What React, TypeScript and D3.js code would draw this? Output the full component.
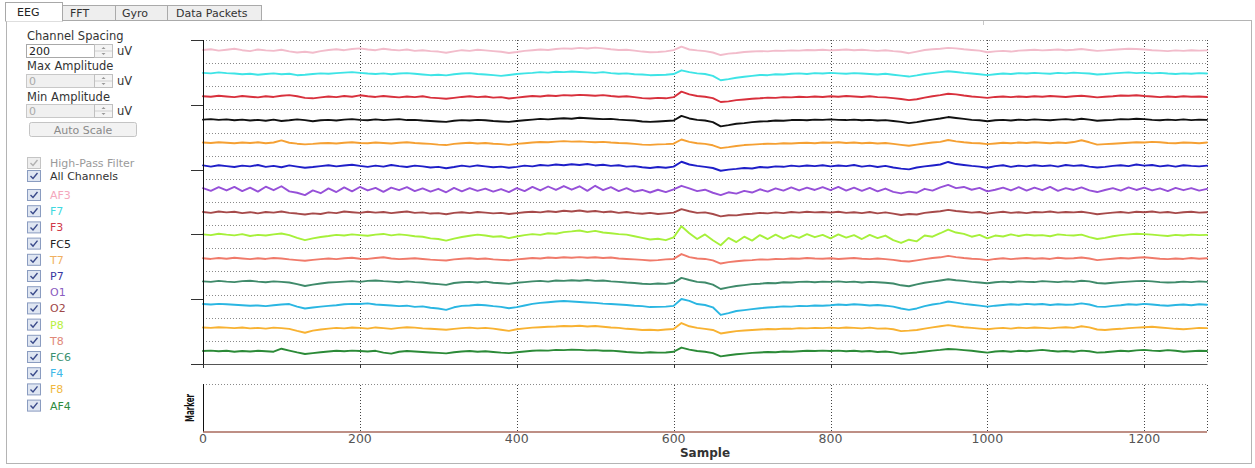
import React from 'react';
import * as d3 from 'd3';

// channel names, top to bottom
const channelNames = ['AF3', 'F7', 'F3', 'FC5', 'T7', 'P7', 'O1', 'O2', 'P8', 'T8', 'FC6', 'F4', 'F8', 'AF4'];
const traceColors = ['#f2bccb', '#3ee4e6', '#d8303c', '#111111', '#f5a033', '#1e1ec8', '#9650d8', '#a64a4a', '#a6f03a', '#f07a6a', '#3f8a6a', '#2ab6e2', '#f8b232', '#2b8a37'];
const labelColors = ['#f4a8bc', '#40d8e0', '#d03848', '#222222', '#f0b060', '#3838a0', '#8a5cc0', '#a04848', '#b8f040', '#e08878', '#3a9070', '#40b8e8', '#f0b840', '#2e8b3e'];

const sampleStep = 10; // one value every 10 samples
const channelSpacing = 200; // uV

// offsets from each channel's baseline, uV
const af3 = [
  4, 10, -2, 6, 14, 2, -6, 8, 0, -4, 6, -8, -18, -12, -20, -6,
  4, 10, 2, 12, 18, 8, 2, 14, 6, 0, 8, -4, 2, -6, -10, -20,
  -8, 2, -4, 6, 0, -6, -12, -22, -14, -4, 2, 8, 4, 12, 18, 14,
  22, 16, 24, 18, 10, 4, 6, -2, -10, -16, -14, -8, 2, 32, 8, 0,
  -6, -18, -40, -28, -22, -14, -10, -6, -8, -2, -4, 0, -2, 4, 2, 6,
  0, 4, 8, 2, 6, 0, -4, 2, -6, -12, -24, -10, 4, 10, 14, 22,
  18, 10, 4, -2, -16, -8, -4, -10, -2, 2, 6, 0, 4, 8, 2, 6,
  12, 4, -4, 0, 6, 10, 14, 12, 8, 2, -2, -6, 0, -4, 2, -2, 0,
];
const f7 = [
  6, 2, 10, 4, 0, -6, -2, -10, -4, 2, -6, -2, -14, -10, -4, 2,
  -2, 4, 8, 12, 6, 0, -4, 2, -6, 0, 4, -2, -8, -14, -10, -16,
  -6, 0, 4, -4, -8, -14, -20, -12, -4, 2, 6, 12, 8, 16, 12, 18,
  14, 10, 6, 12, 4, -2, 2, -6, -8, -14, -12, -10, -4, 28, 12, 2,
  -4, -20, -58, -48, -36, -28, -20, -12, -14, -6, -8, -2, 2, -4, 4, 0,
  6, 2, -2, 4, 0, -4, -8, -2, -10, -18, -26, -16, -4, 4, 12, 20,
  14, 6, 0, -6, -14, -6, 0, -4, 4, 0, 6, 2, -2, 6, 2, 8,
  4, 0, -8, -4, 2, 6, 10, 4, 8, 2, 6, 0, -4, 2, -2, 4, 0,
];
const f3 = [
  4, 0, 8, 2, -4, 6, 0, -6, 4, -2, 8, 14, 4, -10, -14, -6,
  2, -4, 6, 0, 12, 4, -2, 6, 0, -6, 2, -4, 4, -8, -12, -18,
  -10, -2, 4, -4, 2, -8, -4, -16, -8, 0, 6, 2, 10, 6, 14, 10,
  16, 12, 8, 14, 6, 0, 4, -4, -12, -16, -10, -14, -4, 44, 20, 6,
  0, -12, -46, -40, -30, -24, -18, -14, -8, -10, -4, -6, 0, -4, 2, -2,
  4, 0, 6, 2, -2, 4, -4, -6, -12, -20, -30, -22, -8, 4, 14, 26,
  20, 10, 2, -4, -10, -2, 2, -4, 2, -2, 4, 0, 6, 2, -2, 4,
  8, 2, -6, 0, 4, 10, 8, 12, 6, 2, -4, 2, -2, 4, 0, 2, -2,
];
const fc5 = [
  2, 6, 0, 4, -4, 2, -6, 0, -8, 2, -10, -4, 4, -2, -12, -4,
  0, -6, 2, 6, 0, -4, 4, -2, 2, 6, -2, 0, -6, -10, -14, -18,
  -8, -2, -6, 0, -4, -10, -14, -18, -10, -4, 2, 8, 4, 10, 14, 10,
  18, 14, 10, 6, 8, 2, -2, -6, -14, -18, -14, -10, -6, 34, 12, 0,
  -6, -20, -56, -46, -34, -28, -20, -14, -12, -6, -8, -2, 0, -4, 2, 0,
  4, 0, -2, 2, -4, 0, -6, -2, -10, -18, -28, -20, -8, 2, 12, 24,
  16, 8, 0, -4, -12, -4, 0, -6, 2, -2, 4, 0, -4, 2, 6, 0,
  10, 2, -8, -4, 0, 6, 4, 10, 6, 0, -4, 2, -2, 4, -2, 2, 0,
];
const t7 = [
  4, 0, 6, 2, -2, 4, 0, 6, -2, 4, 22, 2, -6, -12, -8, -2,
  0, -4, 2, 6, 0, -2, 4, 0, -4, 2, 6, 0, -4, -8, -14, -18,
  -8, -2, 2, -4, 0, -6, -10, -16, -8, -2, 4, 8, 6, 12, 16, 12,
  14, 10, 6, 10, 4, 0, -2, -8, -14, -16, -12, -10, -6, 30, 10, -2,
  -8, -20, -44, -36, -26, -18, -14, -10, -6, -8, -2, -4, 0, 2, -2, 4,
  2, 6, 0, 4, -2, 2, -4, 0, -8, -16, -24, -14, -4, 4, 10, 26,
  14, 6, 0, -2, -10, -4, 2, -2, 4, 0, 6, 2, -2, 4, 0, 8,
  24, 6, -14, -10, -6, -2, 2, 6, 4, 10, 6, 0, -2, 4, 2, -2, 4,
];
const p7 = [
  6, -4, 8, 0, -8, 4, -2, 10, -6, 2, -10, 6, -4, -14, -8, 0,
  8, -2, 6, 12, 2, -6, 4, -4, 10, 0, -8, 4, -2, -12, -6, -18,
  -8, 4, -4, 6, -2, -10, -4, -14, -6, 4, -2, 10, 4, 14, 8, 16,
  10, 18, 6, 12, 2, 8, -4, 0, -10, -16, -8, -14, -4, 38, 14, 2,
  -6, -16, -40, -30, -24, -16, -20, -8, -12, -2, -6, 4, -2, 6, 0, 8,
  -2, 6, 0, 10, -4, 4, -8, 2, -12, -22, -28, -12, -2, 6, 14, 36,
  18, 10, 2, -4, -14, 0, 8, -6, 4, -2, 8, 0, 6, -4, 10, 2,
  8, -4, -12, -6, 2, 8, 0, 14, 4, 10, -2, 6, -4, 8, 2, -2, 4,
];
const o1 = [
  10, -14, 18, -10, 20, -16, 14, -20, 22, -8, 26, -18, -30, -50, -10, -34,
  8, -24, 16, -18, 20, -10, 12, -22, 14, -8, 18, -16, 8, -20, 4, -26,
  12, -18, 10, -14, 6, -20, 2, -24, 10, -16, 20, -10, 24, -6, 28, -4,
  26, -14, 30, -8, 18, -16, 10, -20, -6, -28, -4, -24, 0, 30, 8, -16,
  -4, -30, -50, -26, -38, -14, -28, 0, -20, 8, -12, 16, -10, 14, -6, 18,
  -8, 20, -12, 14, -14, 12, -18, 6, -22, -36, -20, -30, 4, -12, 16, 38,
  10, 20, -4, 12, -18, -4, 14, -10, 18, -12, 14, -8, 20, -14, 10, -6,
  16, -10, -24, -6, 10, -12, 16, -6, 14, -10, 8, -16, 12, -8, 10, -12, 4,
];
const o2 = [
  4, -4, 8, 0, 6, -6, 2, -8, 4, -2, 8, -4, -10, -18, -8, -14,
  0, -6, 8, 2, -4, 6, -2, 4, -6, 2, 8, -4, 0, -10, -6, -16,
  -4, 2, -6, 4, -2, -8, -4, -14, -6, 2, 6, 0, 10, 4, 14, 8,
  16, 6, 12, 2, 8, -4, 4, -6, -12, -4, -14, -8, -2, 28, 10, -4,
  0, -14, -34, -24, -26, -16, -12, -4, -8, 0, -6, 4, -2, 6, 0, 4,
  -2, 6, -4, 2, -6, 4, -8, 0, -10, -22, -14, -18, -4, 4, 10, 22,
  12, 6, -2, 4, -10, -2, 6, -4, 2, -6, 4, 0, 8, -2, 4, 0,
  6, -4, -16, -8, -2, 4, -4, 6, 2, 8, -2, 4, -6, 2, 6, -2, 2,
];
const p8 = [
  10, 4, 16, 8, 2, 12, -4, 6, 0, 10, 18, 4, -20, -40, -24, -12,
  -4, 6, 0, 10, 4, -2, 8, 14, 2, 10, 4, -6, -10, -24, -30, -44,
  -26, -12, -2, 8, 0, -10, -6, -22, -8, 4, 12, 6, 20, 16, 30, 36,
  44, 30, 40, 26, 20, 12, 8, -6, -20, -34, -28, -40, -16, 80, 20, -30,
  10, -40, -84, -20, -56, -10, -44, 4, -30, 8, -26, 2, -20, 12, -14, 6,
  -24, 10, -18, 4, -30, 6, -22, 0, -40, -64, -36, -50, 0, -10, 20, 52,
  26, 14, -10, 6, -24, 0, -8, 10, -4, 8, 0, 4, -6, 10, 4, 0,
  8, -14, -30, -20, -6, 4, 10, 16, 12, 8, 2, -4, 6, 0, 8, 4, 6,
];
const t8 = [
  4, -2, 6, 0, 8, 2, -4, 4, -2, 6, 2, -6, -12, -18, -10, -4,
  2, -4, 4, 8, 0, -2, 6, 12, 2, -4, 0, 4, -2, -8, -12, -16,
  -6, 0, 4, -2, 2, -6, -10, -14, -6, 0, 6, 2, 10, 6, 12, 8,
  14, 8, 12, 6, 10, 2, -2, -6, -10, -16, -12, -6, -2, 40, 14, 2,
  -2, -14, -42, -30, -22, -16, -12, -6, -8, -2, -4, 2, 0, 6, 2, 0,
  4, -2, 2, 6, 0, -4, 2, -4, -10, -20, -24, -14, -4, 6, 12, 24,
  14, 6, 0, -4, -12, -2, 4, -4, 2, 6, 0, 4, -2, 8, 2, 4,
  10, 2, -12, -6, 0, 6, 2, 8, 12, 6, 0, -4, 2, -2, 6, 0, 4,
];
const fc6 = [
  4, 0, 8, 2, -2, 6, 10, 2, -4, 4, 0, -6, -20, -36, -24, -14,
  -6, -2, 2, 6, 0, 8, 12, 6, 2, -4, 4, -2, -6, -14, -20, -26,
  -10, -4, 0, -6, 2, -8, -12, -18, -8, -2, 4, 8, 2, 12, 8, 14,
  10, 16, 8, 12, 4, 0, -6, -10, -16, -20, -14, -18, -8, 34, 16, 0,
  -6, -24, -62, -48, -36, -28, -20, -16, -10, -12, -4, -6, 0, 2, -4, 2,
  0, 4, -2, 2, -6, 0, -4, -8, -14, -30, -38, -22, -8, 2, 12, 22,
  14, 8, 0, -6, -12, -4, 2, -4, 4, 0, -2, 6, 2, -2, 4, 0,
  10, 4, -10, -14, -8, -2, 2, 6, 8, 4, -2, -6, -4, 2, -2, 4, 0,
];
const f4 = [
  8, 4, 10, 6, 2, -2, -6, -4, -10, -2, 4, 8, -14, -30, -22, -14,
  -8, -2, 6, 10, 8, 14, 4, 0, -4, -10, -6, -16, -12, -24, -30, -42,
  -20, -8, -4, 2, -2, -10, -16, -28, -18, -4, 10, 18, 24, 30, 34, 30,
  26, 22, 18, 12, 8, 4, 0, -6, -10, -18, -16, -14, -8, 52, 36, 8,
  0, -20, -86, -70, -52, -44, -36, -28, -22, -18, -12, -14, -8, -10, -4, -6,
  -2, 4, 0, 6, 2, -4, 0, -6, -14, -30, -42, -30, -10, 4, 14, 30,
  20, 10, 2, -6, -14, -6, 0, 6, 2, 10, 4, 8, 0, 6, 2, 4,
  14, 4, -14, -16, -8, -2, 6, 2, 10, 4, -2, -6, 0, 4, -2, 6, 2,
];
const f8 = [
  6, 2, 8, 4, 0, 6, -2, 2, -4, 4, 0, -6, -24, -40, -22, -12,
  -4, 2, -2, 6, 2, -4, 6, 0, -6, 2, 8, 4, -2, -6, -10, -14,
  -6, 0, 4, -2, 2, -4, -14, -24, -10, -2, 4, 8, 12, 14, 18, 16,
  20, 14, 18, 12, 6, 2, -6, -10, -16, -14, -18, -12, -8, 44, 16, 2,
  -6, -16, -46, -36, -26, -20, -16, -12, -8, -10, -4, -6, 0, -2, 2, 0,
  4, 0, 6, 2, -2, 4, -4, -2, -10, -26, -22, -16, -4, 6, 16, 26,
  16, 8, 2, -4, -10, -2, 2, -4, 4, 0, 6, 2, -2, 4, 8, 2,
  16, 6, -12, -16, -10, -6, 0, 4, 8, 12, 6, 0, -6, -10, -4, 2, 0,
];
const af4 = [
  2, 6, 0, 4, -4, 2, -2, 4, 0, -4, 22, 6, -10, -24, -16, -8,
  -2, 4, 0, 6, 2, -2, 4, -12, -20, -4, 2, -2, -6, -10, -14, -18,
  -8, -2, 2, -4, 0, -6, -12, -16, -8, -2, 4, 8, 6, 12, 10, 14,
  12, 8, 10, 4, 6, 0, -6, -10, -14, -8, -12, -10, -4, 32, 14, 2,
  -4, -16, -44, -34, -26, -20, -14, -10, -6, -8, -2, -4, 0, 4, 2, 6,
  2, 6, 0, 4, -2, 2, -6, -2, -10, -22, -16, -10, -2, 6, 12, 20,
  16, 10, 4, -4, -12, -2, 2, -4, 4, 0, 6, 12, 4, -2, 2, -4,
  6, 0, -12, -8, -2, 4, 0, 8, 12, 6, 2, 10, 4, -4, 0, 4, 2,
];
const channelData = [af3, f7, f3, fc5, t7, p7, o1, o2, p8, t8, fc6, f4, f8, af4];

// marker channel: flat at zero
const markerSamples = [0, 1280];
const markerValues = [0, 0];

const xTicks = [0, 200, 400, 600, 800, 1000, 1200];
const yTicks = [0, 560, 1120, 1680, 2240, 2800];

const UI_FONT = '"DejaVu Sans", Verdana, sans-serif';

const CheckBox = ({ x, y, disabled }: { x: number; y: number; disabled?: boolean }) => (
  <g>
    <rect x={x + 0.5} y={y + 0.5} width={13} height={11} fill={disabled ? '#eeeeee' : '#dfe6f2'} stroke={disabled ? '#c4c4c4' : '#8a9cc0'} />
    <path d={`M${x + 3.5},${y + 6} L${x + 6},${y + 8.5} L${x + 10.5},${y + 3}`} fill="none" stroke={disabled ? '#b0b0b0' : '#3a4a8a'} strokeWidth={1.4} />
  </g>
);

const SpinBox = ({ y, value, disabled }: { y: number; value: string; disabled?: boolean }) => (
  <g>
    <rect x={26.5} y={y + 0.5} width={68} height={13} fill={disabled ? '#f0f0f0' : '#ffffff'} stroke={disabled ? '#c8c8c8' : '#a8a8a8'} />
    <text x={29} y={y + 11} fontSize={11} fill={disabled ? '#aaaaaa' : '#222222'}>{value}</text>
    <rect x={94.5} y={y + 0.5} width={18} height={13} fill="#f4f4f4" stroke="#c0c0c0" />
    <line x1={95} x2={112} y1={y + 7} y2={y + 7} stroke="#d0d0d0" />
    <path d={`M${101.5},${y + 5} L${103.5},${y + 3} L${105.5},${y + 5}Z`} fill="#999" />
    <path d={`M${101.5},${y + 9} L${103.5},${y + 11} L${105.5},${y + 9}Z`} fill="#999" />
    <text x={117} y={y + 11} fontSize={11.5} fill="#333">uV</text>
  </g>
);

export default function App() {
  const width = 1255;
  const height = 468;

  const x = d3.scaleLinear().domain([0, 1280]).range([203, 1207]);
  const y = d3.scaleLinear().domain([0, channelNames.length * channelSpacing]).range([364, 40]);
  const markerY = d3.scaleLinear().domain([0, 1]).range([432, 384]);

  const gridValues = d3.range(channelSpacing, channelNames.length * channelSpacing + 1, channelSpacing);

  const traces = channelData.map((vals, k) => {
    const base = (channelNames.length - 1 - k) * channelSpacing + 110;
    const line = d3.line<number>()
      .x((_, i) => x(i * sampleStep))
      .y(v => y(base + v));
    return line(vals) || '';
  });

  const markerLine = d3.line<number>()
    .x((_, i) => x(markerSamples[i]))
    .y(v => markerY(v))(markerValues) || '';

  const tabs = [
    { label: 'FFT', x0: 62.5, w: 53, tx: 70 },
    { label: 'Gyro', x0: 115.5, w: 52, tx: 122 },
    { label: 'Data Packets', x0: 167.5, w: 94, tx: 176 },
  ];

  const rowY0 = 195;
  const rowStep = 16.2;

  return (
    <div style={{ position: 'absolute', left: 0, top: 0 }}>
      <svg width={width} height={height} style={{ display: 'block', fontFamily: UI_FONT }}>
        <rect x={0} y={0} width={width} height={height} fill="#ffffff" />

        {/* window frame and tabs */}
        <rect x={6.5} y={20.5} width={1245} height={443} fill="#ffffff" stroke="#b4b4b4" />
        {tabs.map(t => (
          <g key={t.label}>
            <rect x={t.x0} y={5.5} width={t.w} height={15} fill="#eeeeee" stroke="#aaaaaa" />
            <text x={t.tx} y={17} fontSize={11} fill="#333">{t.label}</text>
          </g>
        ))}
        <rect x={5.5} y={2.5} width={57} height={18.5} fill="#ffffff" stroke="#a8a8a8" />
        <line x1={6} x2={62} y1={20.5} y2={20.5} stroke="#ffffff" strokeWidth={1.5} />
        <text x={17} y={16} fontSize={11} fill="#222">EEG</text>
        <line x1={983.5} x2={983.5} y1={21} y2={25} stroke="#c8c8c8" />

        {/* control panel */}
        <text x={27} y={40} fontSize={11.5} fill="#333">Channel Spacing</text>
        <SpinBox y={44} value="200" />
        <text x={27} y={70} fontSize={11.5} fill="#333">Max Amplitude</text>
        <SpinBox y={74} value="0" disabled />
        <text x={27} y={101} fontSize={11.5} fill="#333">Min Amplitude</text>
        <SpinBox y={104} value="0" disabled />
        <rect x={29.5} y={122.5} width={107} height={14} rx={2} fill="#f2f2f2" stroke="#c4c4c4" />
        <text x={83} y={133.5} fontSize={11} fill="#8a8a8a" textAnchor="middle">Auto Scale</text>

        <CheckBox x={27} y={157} disabled />
        <text x={50} y={167} fontSize={11} fill="#9a9a9a">High-Pass Filter</text>
        <CheckBox x={27} y={170} />
        <text x={50} y={180} fontSize={11} fill="#333">All Channels</text>
        {channelNames.map((name, k) => {
          const cy = rowY0 + k * rowStep;
          return (
            <g key={name}>
              <CheckBox x={27} y={cy - 6} />
              <text x={50} y={cy + 4} fontSize={11} fill={labelColors[k]}>{name}</text>
            </g>
          );
        })}

        {/* EEG plot grid */}
        {gridValues.map(v => (
          <line key={`h${v}`} x1={203} x2={1207} y1={Math.round(y(v)) + 0.5} y2={Math.round(y(v)) + 0.5}
            stroke="#8a8a8a" strokeDasharray="1,2" />
        ))}
        {xTicks.slice(1).map(t => (
          <line key={`v${t}`} x1={Math.round(x(t)) + 0.5} x2={Math.round(x(t)) + 0.5} y1={40} y2={364}
            stroke="#444" strokeDasharray="1,2" />
        ))}
        <line x1={1207.5} x2={1207.5} y1={40} y2={364} stroke="#444" strokeDasharray="1,2" />

        {/* traces */}
        {traces.map((d, k) => (
          <path key={channelNames[k]} d={d} fill="none" stroke={traceColors[k]} strokeWidth={1.9}
            strokeLinejoin="round" strokeLinecap="round" />
        ))}

        {/* axes */}
        <line x1={203.5} x2={203.5} y1={40} y2={364.5} stroke="#111" />
        {yTicks.map(t => (
          <line key={`yt${t}`} x1={191} x2={203} y1={Math.round(y(t)) + 0.5} y2={Math.round(y(t)) + 0.5} stroke="#333" />
        ))}
        <line x1={203} x2={1207.5} y1={364.5} y2={364.5} stroke="#555" />
        {xTicks.map(t => (
          <line key={`xt${t}`} x1={Math.round(x(t)) + 0.5} x2={Math.round(x(t)) + 0.5} y1={364} y2={368} stroke="#333" />
        ))}

        {/* marker panel */}
        <line x1={203} x2={1207} y1={384.5} y2={384.5} stroke="#8a8a8a" strokeDasharray="1,2" />
        {xTicks.slice(1).map(t => (
          <line key={`mv${t}`} x1={Math.round(x(t)) + 0.5} x2={Math.round(x(t)) + 0.5} y1={385} y2={432}
            stroke="#444" strokeDasharray="1,2" />
        ))}
        <line x1={1207.5} x2={1207.5} y1={385} y2={432} stroke="#444" strokeDasharray="1,2" />
        <line x1={203.5} x2={203.5} y1={384} y2={432} stroke="#111" />
        <path d={markerLine} fill="none" stroke="#a86a5c" strokeWidth={1.6} />
        <text transform="translate(194,408) rotate(-90)" textAnchor="middle" fontSize={12} fontWeight="bold"
          fontFamily='"Liberation Sans Narrow", "DejaVu Sans Condensed", sans-serif' fill="#111" textLength={28} lengthAdjust="spacingAndGlyphs">Marker</text>

        {xTicks.map(t => (
          <text key={`xl${t}`} x={x(t)} y={443} fontSize={12.5} fill="#555" textAnchor="middle">{t}</text>
        ))}
        <text x={705} y={457} fontSize={12} fontWeight="bold" fill="#333" textAnchor="middle">Sample</text>
      </svg>
    </div>
  );
}
